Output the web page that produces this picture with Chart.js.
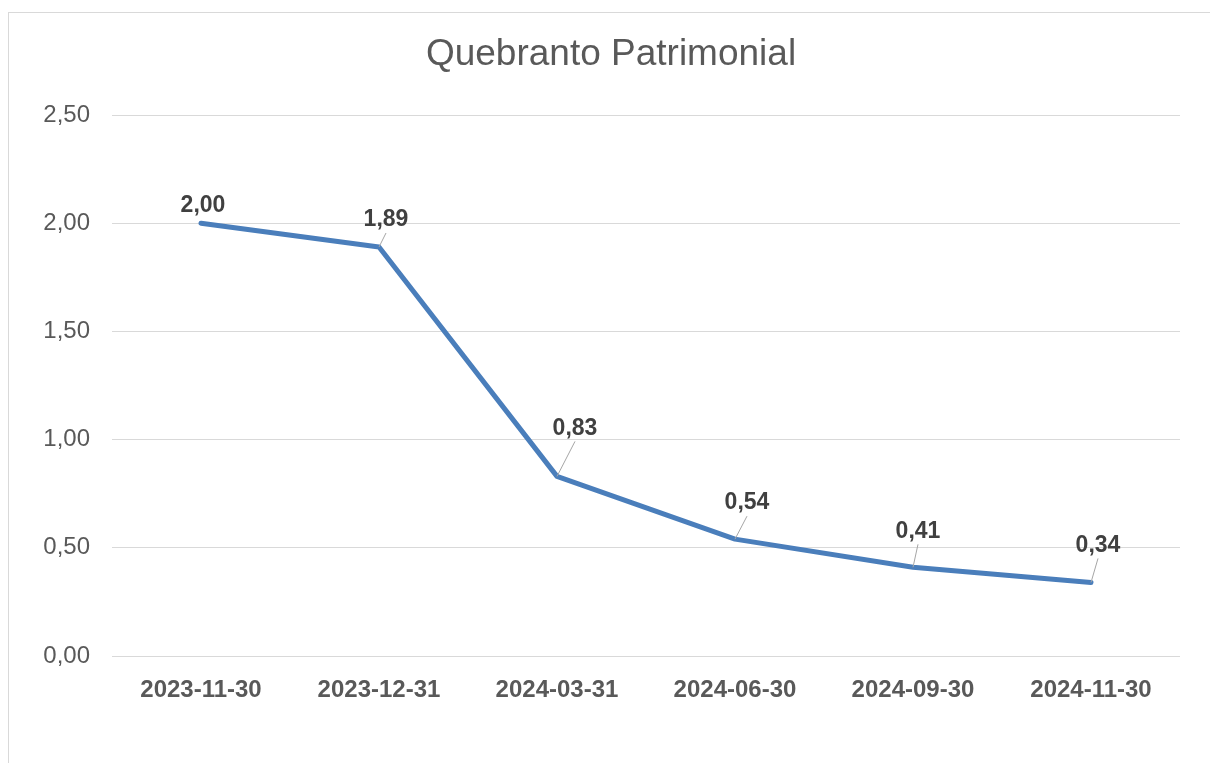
<!DOCTYPE html>
<html>
<head>
<meta charset="utf-8">
<script src="https://cdn.jsdelivr.net/npm/chart.js@4/dist/chart.umd.min.js"></script>
<style>
html,body{margin:0;padding:0;background:#fff;}
canvas{display:block;}
</style>
</head>
<body>
<canvas id="c" width="1210" height="763"></canvas>
<script>
const categories = ['2023-11-30','2023-12-31','2024-03-31','2024-06-30','2024-09-30','2024-11-30'];
const values = [2.00, 1.89, 0.83, 0.54, 0.41, 0.34];
const yTicks = [0, 0.5, 1.0, 1.5, 2.0, 2.5];
const chartTitle = 'Quebranto Patrimonial';

const FONT = '"Liberation Sans", Arial, Helvetica, sans-serif';
const fmt = v => v.toFixed(2).replace('.', ',');

const frame = {
  id: 'frame',
  beforeDraw(chart) {
    const ctx = chart.ctx;
    ctx.save();
    ctx.fillStyle = '#ffffff';
    ctx.fillRect(0, 0, chart.width, chart.height);
    ctx.strokeStyle = '#d9d9d9';
    ctx.lineWidth = 1;
    ctx.strokeRect(8.5, 12.5, chart.width + 20, chart.height + 20);
    ctx.restore();
  }
};

const dataLabels = {
  id: 'dataLabels',
  afterDatasetsDraw(chart, args, opts) {
    const ctx = chart.ctx;
    const meta = chart.getDatasetMeta(0);
    ctx.save();
    meta.data.forEach((pt, i) => {
      const off = opts.offsets[i];
      const lx = pt.x + off[0], ly = pt.y + off[1];
      if (off[2]) {
        ctx.strokeStyle = '#a6a6a6';
        ctx.lineWidth = 1;
        ctx.beginPath();
        ctx.moveTo(pt.x, pt.y);
        ctx.lineTo(lx, ly + 15);
        ctx.stroke();
      }
      ctx.fillStyle = '#404040';
      ctx.font = 'bold 23px ' + FONT;
      ctx.textAlign = 'center';
      ctx.textBaseline = 'middle';
      ctx.fillText(fmt(values[i]), lx, ly + 2);
    });
    ctx.restore();
  }
};

new Chart(document.getElementById('c'), {
  type: 'line',
  data: {
    labels: categories,
    datasets: [{
      data: values,
      borderColor: '#4a7ebb',
      borderWidth: 5,
      pointRadius: 0,
      borderCapStyle: 'round',
      borderJoinStyle: 'round',
      tension: 0,
      fill: false
    }]
  },
  options: {
    responsive: false,
    animation: false,
    devicePixelRatio: 1,
    layout: { padding: { left: 42, right: 30, top: 12, bottom: 0 } },
    plugins: {
      legend: { display: false },
      tooltip: { enabled: false },
      title: {
        display: true,
        text: chartTitle,
        color: '#595959',
        font: { family: FONT, size: 37, weight: 'normal' },
        padding: { top: 21, bottom: 37.6 }
      },
      dataLabels: {
        offsets: [[2,-20,false],[7,-29,true],[18,-50,true],[12,-38,true],[5,-38,true],[7,-39,true]]
      }
    },
    scales: {
      x: {
        offset: true,
        grid: { display: false, drawTicks: false },
        border: { display: false },
        ticks: {
          color: '#595959',
          font: { family: FONT, size: 24, weight: 'bold' },
          padding: 20,
          maxRotation: 0
        },
        afterFit(s) { s.height = 107; }
      },
      y: {
        min: 0,
        max: 2.5,
        afterBuildTicks(s) { s.ticks = yTicks.map(v => ({ value: v })); },
        grid: { color: '#d9d9d9', lineWidth: 1, drawTicks: false },
        border: { display: false },
        ticks: {
          color: '#595959',
          font: { family: FONT, size: 24 },
          padding: 22,
          callback: v => fmt(v)
        },
        afterFit(s) { s.width = 70; }
      }
    }
  },
  plugins: [frame, dataLabels]
});
</script>
</body>
</html>
